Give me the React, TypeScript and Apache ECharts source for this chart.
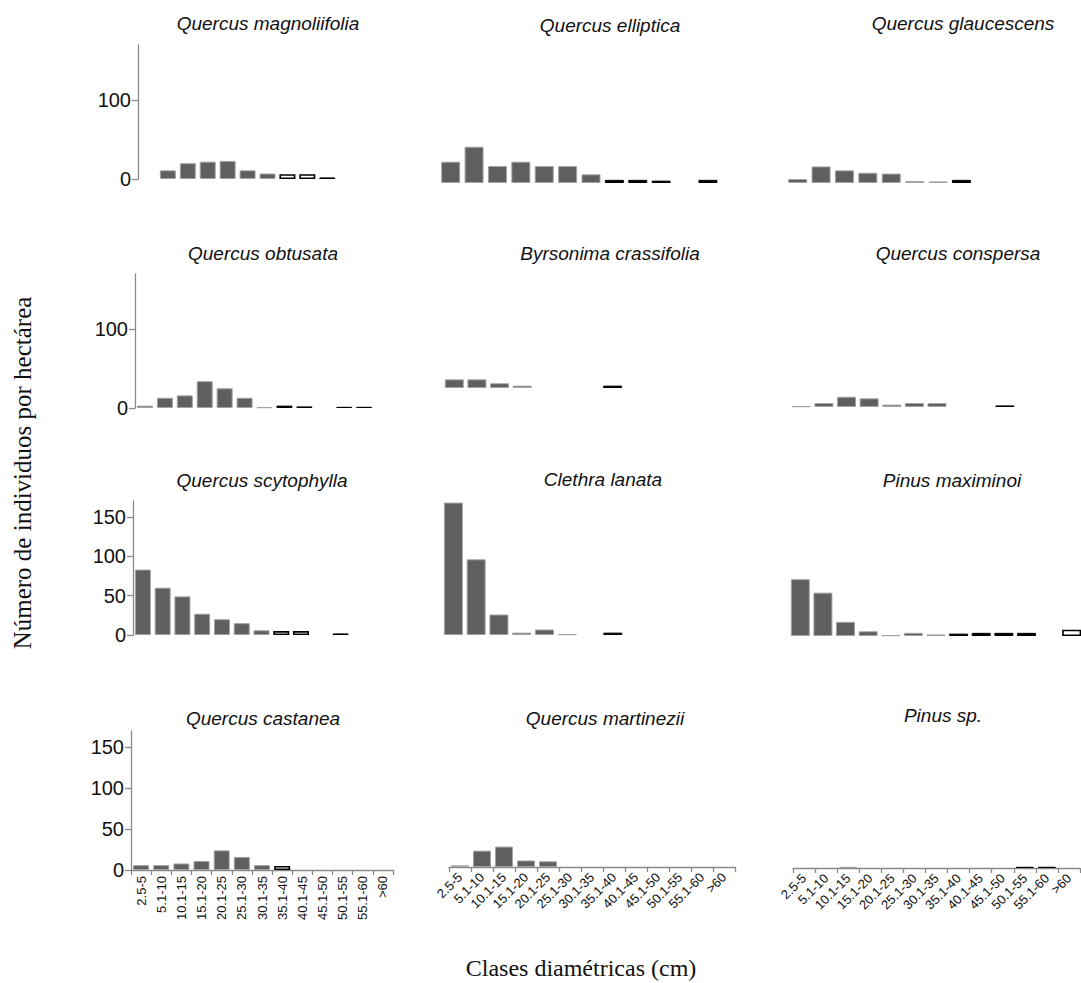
import React, { useEffect, useRef } from "react";
import * as echarts from "echarts";

// Diameter classes (cm)
const classes = ["2.5-5", "5.1-10", "10.1-15", "15.1-20", "20.1-25", "25.1-30", "30.1-35", "35.1-40", "40.1-45", "45.1-50", "50.1-55", "55.1-60", ">60"];

// Individuals per hectare, per diameter class
const magnoliifolia = [null, 11, 20, 22, 23, 11, 7, 6, 6, 2, null, null, null];
const elliptica = [27, 46, 21.5, 27, 21.5, 21.5, 11, 4, 4, 3, null, 4, null];
const glaucescens = [5, 21, 16, 13, 12, 2.5, 2, 4, null, null, null, null, null];
const obtusata = [3, 13, 16, 34, 25, 13, 1, 3, 2, null, 1.5, 1.5, null];
const crassifolia = [11, 11, 6, 3, null, null, null, 3, null, null, null, null, null];
const conspersa = [1, 5, 13, 11, 3, 5, 5, null, null, 2, null, null, null];
const scytophylla = [83, 60, 49, 27, 20, 15, 6, 5, 5, null, 2, null, null];
const lanata = [168, 96, 26, 3, 7, 1, null, 3, null, null, null, null, null];
const maximinoi = [72, 55, 18, 6, 1, 4, 2, 3, 4, 4, 4, null, 8];
const castanea = [6, 6, 8, 11, 24, 16, 6, 5, null, null, null, null, null];
const martinezii = [2, 20, 25, 8, 7, null, null, null, null, null, null, null, null];
const pinusSp = [null, null, 1.5, null, null, null, null, null, null, null, 1.5, 1.5, null];

const yTicksWide = [0, 100];
const yTicksFine = [0, 50, 100, 150];

type Panel = {
  name: string;
  data: (number | null)[];
  black: number[];
  pattern: number[];
  grid: { left: number; top: number; width: number; height: number };
  y: "wide" | "fine" | "none";
  x: "none" | "rot90" | "rot45";
  title: [number, number];
  barWidth: number;
};

const panels: Panel[] = [
  { name: "Quercus magnoliifolia", data: magnoliifolia, black: [9], pattern: [7, 8], grid: { left: 138, top: 45, width: 259, height: 134 }, y: "wide", x: "none", title: [268, 23], barWidth: 16 },
  { name: "Quercus elliptica", data: elliptica, black: [7, 8, 9, 11], pattern: [], grid: { left: 439, top: 49, width: 304, height: 134 }, y: "none", x: "none", title: [610, 25], barWidth: 19 },
  { name: "Quercus glaucescens", data: glaucescens, black: [7], pattern: [], grid: { left: 786, top: 49, width: 304, height: 134 }, y: "none", x: "none", title: [963, 23], barWidth: 19 },
  { name: "Quercus obtusata", data: obtusata, black: [7, 8, 10, 11], pattern: [], grid: { left: 135, top: 274, width: 259, height: 134 }, y: "wide", x: "none", title: [263, 253], barWidth: 16 },
  { name: "Byrsonima crassifolia", data: crassifolia, black: [7], pattern: [], grid: { left: 443, top: 254, width: 294, height: 134 }, y: "none", x: "none", title: [610, 253], barWidth: 19 },
  { name: "Quercus conspersa", data: conspersa, black: [9], pattern: [], grid: { left: 790, top: 273, width: 294, height: 134 }, y: "none", x: "none", title: [958, 253], barWidth: 19 },
  { name: "Quercus scytophylla", data: scytophylla, black: [10], pattern: [7, 8], grid: { left: 133, top: 501, width: 257, height: 134 }, y: "fine", x: "none", title: [262, 480], barWidth: 16 },
  { name: "Clethra lanata", data: lanata, black: [7], pattern: [], grid: { left: 442, top: 501, width: 296, height: 134 }, y: "none", x: "none", title: [603, 479], barWidth: 19 },
  { name: "Pinus maximinoi", data: maximinoi, black: [7, 8, 9, 10], pattern: [12], grid: { left: 789, top: 502, width: 294, height: 134 }, y: "none", x: "none", title: [952, 480], barWidth: 19 },
  { name: "Quercus castanea", data: castanea, black: [], pattern: [7], grid: { left: 131, top: 731, width: 262, height: 139 }, y: "fine", x: "rot90", title: [263, 718], barWidth: 16 },
  { name: "Quercus martinezii", data: martinezii, black: [], pattern: [], grid: { left: 449, top: 728, width: 286, height: 139 }, y: "none", x: "rot45", title: [605, 718], barWidth: 18 },
  { name: "Pinus sp.", data: pinusSp, black: [10, 11], pattern: [], grid: { left: 793, top: 729, width: 287, height: 139 }, y: "none", x: "rot45", title: [943, 715], barWidth: 18 },
];

const axisGray = "#8a8a8a";

function buildOption() {
  const grid: any[] = [];
  const xAxis: any[] = [];
  const yAxis: any[] = [];
  const series: any[] = [];
  const graphic: any[] = [];

  panels.forEach((p, i) => {
    grid.push({ ...p.grid, containLabel: false, outerBoundsMode: "none" });
    const ticks = p.y === "wide" ? yTicksWide : yTicksFine;
    yAxis.push({
      gridIndex: i,
      type: "value",
      min: 0,
      max: 170,
      show: p.y !== "none",
      axisLine: { show: true, lineStyle: { color: axisGray, width: 1.3 } },
      axisTick: { show: true, length: 6, lineStyle: { color: axisGray, width: 1.3 }, customValues: ticks },
      axisLabel: { customValues: ticks, fontSize: 20, fontFamily: "Liberation Sans", color: "#111", margin: 7 },
      splitLine: { show: false },
    });
    xAxis.push({
      gridIndex: i,
      type: "category",
      data: classes,
      show: p.x !== "none",
      axisLine: { show: true, onZero: false, lineStyle: { color: axisGray, width: 1.3 } },
      axisTick: { show: true, length: 5, interval: 0, lineStyle: { color: axisGray, width: 1.3 } },
      axisLabel: {
        interval: 0,
        rotate: p.x === "rot90" ? 90 : 45,
        fontSize: 13,
        fontFamily: "Liberation Sans",
        color: "#111",
        margin: p.x === "rot90" ? 6 : 8,
      },
      splitLine: { show: false },
    });
    series.push({
      type: "bar",
      xAxisIndex: i,
      yAxisIndex: i,
      barWidth: p.barWidth,
      data: p.data.map((v, k) => {
        if (v === null) return null;
        let itemStyle: any = { color: "#5f5f5f", borderColor: "#a3a3a3", borderWidth: 1 };
        if (p.black.includes(k)) itemStyle = { color: "#000", borderColor: "#000", borderWidth: 1 };
        if (p.pattern.includes(k)) itemStyle = { color: "#fff", borderColor: "#000", borderWidth: 1.6 };
        return { value: v, itemStyle };
      }),
    });
    graphic.push({
      type: "text",
      x: p.title[0],
      y: p.title[1],
      style: {
        text: p.name,
        textAlign: "center",
        textVerticalAlign: "middle",
        font: "italic 19px 'Liberation Sans', Arial, sans-serif",
        fill: "#111",
      },
    });
  });

  graphic.push({
    type: "text",
    x: 22,
    y: 473,
    rotation: Math.PI / 2,
    style: {
      text: "Número de individuos por hectárea",
      textAlign: "center",
      textVerticalAlign: "middle",
      font: "25px 'Liberation Serif', 'Times New Roman', serif",
      fill: "#111",
    },
  });
  graphic.push({
    type: "text",
    x: 581,
    y: 968,
    style: {
      text: "Clases diamétricas (cm)",
      textAlign: "center",
      textVerticalAlign: "middle",
      font: "24px 'Liberation Serif', 'Times New Roman', serif",
      fill: "#111",
    },
  });

  return {
    animation: false,
    backgroundColor: "#ffffff",
    grid,
    xAxis,
    yAxis,
    series,
    graphic,
  };
}

export default function App() {
  const ref = useRef<HTMLDivElement>(null);
  useEffect(() => {
    if (!ref.current) return;
    const chart = echarts.init(ref.current, null, { renderer: "svg", width: 1081, height: 983 });
    chart.setOption(buildOption() as any);
    return () => chart.dispose();
  }, []);
  return (
    <div
      ref={ref}
      style={{ position: "absolute", left: 0, top: 0, width: 1081, height: 983, background: "#fff" }}
    />
  );
}
